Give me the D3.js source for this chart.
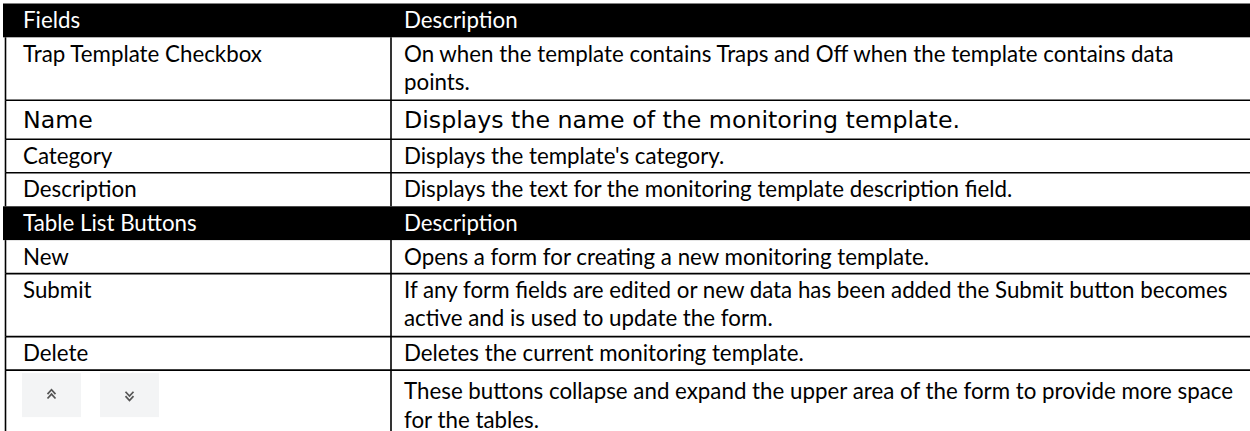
<!DOCTYPE html>
<html><head><meta charset="utf-8">
<script src="https://cdn.jsdelivr.net/npm/d3@7"></script>
<style>
html,body{margin:0;padding:0;background:#fff;}
svg{display:block;}
</style></head>
<body><svg id="c" width="1250" height="431"></svg>
<script>
// ---- data ----
const headerFields = ["Fields", "Description"];
const headerButtons = ["Table List Buttons", "Description"];
const fieldNames = ["Trap Template Checkbox", "Name", "Category", "Description"];
const fieldDescriptions = [
  ["On when the template contains Traps and Off when the template contains data", "points."],
  ["Displays the name of the monitoring template."],
  ["Displays the template's category."],
  ["Displays the text for the monitoring template description field."]
];
const buttonNames = ["New", "Submit", "Delete", "[collapse/expand icons]"];
const buttonDescriptions = [
  ["Opens a form for creating a new monitoring template."],
  ["If any form fields are edited or new data has been added the Submit button becomes", "active and is used to update the form."],
  ["Deletes the current monitoring template."],
  ["These buttons collapse and expand the upper area of the form to provide more space", "for the tables."]
];

// ---- layout ----
const W = 1250, H = 431;
const svg = d3.select("#c");
const xLeft = 5.5, xDiv = 391, xText1 = 23, xText2 = 404;
const baseFont = "Lato, 'Open Sans', sans-serif";
const nameFont = "'DejaVu Sans', Verdana, sans-serif";

// fit font size by canvas measurement
const ctx = document.createElement("canvas").getContext("2d");
function fit(font, str, target) {
  ctx.font = "100px " + font;
  return 100 * target / ctx.measureText(str).width;
}
const fs = fit(baseFont, fieldDescriptions[0][0], 772);
const fsName = fit(nameFont, "Displays the name of the monito", 388);

const rows = [];
rows.push({kind: "header", cells: headerFields});
fieldNames.forEach((f, i) => rows.push({kind: "row", name: f, lines: fieldDescriptions[i], big: f === "Name"}));
rows.push({kind: "header", cells: headerButtons});
buttonNames.forEach((f, i) => rows.push({kind: "row", name: f, lines: buttonDescriptions[i], icons: i === 3}));

let y = 3.5;
rows.forEach(r => {
  const n = r.lines ? r.lines.length : 1;
  r.h = r.big ? 39 : (n === 1 ? 33.5 : 63);
  if (r.kind === "header") r.h = 33.8;
  r.y = y; y += r.h;
});
// last row extends to the bottom
rows[rows.length - 1].h = H - rows[rows.length - 1].y;

const g = svg.append("g");

// header bars
g.selectAll("rect.hdr").data(rows.filter(r => r.kind === "header")).join("rect")
  .attr("class", "hdr").attr("x", 3).attr("y", d => d.y).attr("width", W - 3).attr("height", d => d.h)
  .attr("fill", "#000");

// header texts
rows.filter(r => r.kind === "header").forEach(r => {
  g.selectAll(null).data(r.cells).join("text")
    .attr("x", (d, i) => i === 0 ? xText1 : xText2)
    .attr("y", r.y + r.h / 2 + fs * 0.36)
    .attr("fill", "#fff").attr("font-family", baseFont).attr("font-size", fs)
    .text(d => d);
});

const body = rows.filter(r => r.kind === "row");

// text of body rows
body.forEach(r => {
  const font = r.big ? nameFont : baseFont;
  const size = r.big ? fsName : fs;
  let firstBase = r.big ? r.y + r.h / 2 + size * 0.36 : r.y + 16.5 + fs * 0.36;
  let gap = 28;
  if (r.icons) { firstBase += 4; gap = 29; }
  if (!r.icons) {
    g.append("text").attr("x", xText1).attr("y", firstBase)
      .attr("font-family", font).attr("font-size", size).attr("fill", "#000").text(r.name);
  }
  g.selectAll(null).data(r.lines).join("text")
    .attr("x", xText2).attr("y", (d, i) => firstBase + i * gap)
    .attr("font-family", font).attr("font-size", size).attr("fill", "#000").text(d => d);
});

// icons row
const iconRow = body.find(r => r.icons);
const boxes = [{x: 22, dir: -1}, {x: 100, dir: 1}];
const ib = g.selectAll("g.ib").data(boxes).join("g").attr("class", "ib")
  .attr("transform", d => `translate(${d.x},${iconRow.y + 3})`);
ib.append("rect").attr("width", 59).attr("height", 44).attr("fill", "#f3f4f5");
ib.append("path")
  .attr("d", d => {
    const cx = 29.5, cy = 22, w = 4;
    const s = d.dir; // -1 up, 1 down
    let p = "";
    [-3.2, 1.2].forEach(o => {
      const yy = cy + o * (s === -1 ? 1 : -1);
      const k = 2.2 * (s === -1 ? 1 : -1);
      p += `M${cx - w},${yy + k}L${cx},${yy - k}L${cx + w},${yy + k}`;
    });
    return p;
  })
  .attr("fill", "none").attr("stroke", "#555").attr("stroke-width", 1.7);

// grid lines
const headerTops = rows.filter(r => r.kind === "header").map(r => r.y);
const hLines = body.slice(0, -1).map(r => r.y + r.h)
  .filter(v => !headerTops.some(t => Math.abs(t - v) < 1));
g.selectAll("line.h").data(hLines).join("line")
  .attr("class", "h").attr("x1", xLeft).attr("x2", W).attr("y1", d => d).attr("y2", d => d)
  .attr("stroke", "#000").attr("stroke-width", 1.6);

// vertical lines per body row
g.selectAll("line.v").data(body.flatMap(r => [{x: xLeft, r}, {x: xDiv, r}])).join("line")
  .attr("class", "v").attr("x1", d => d.x).attr("x2", d => d.x)
  .attr("y1", d => d.r.y).attr("y2", d => d.r.y + d.r.h)
  .attr("stroke", "#000").attr("stroke-width", 1.6);
</script>
</body></html>
